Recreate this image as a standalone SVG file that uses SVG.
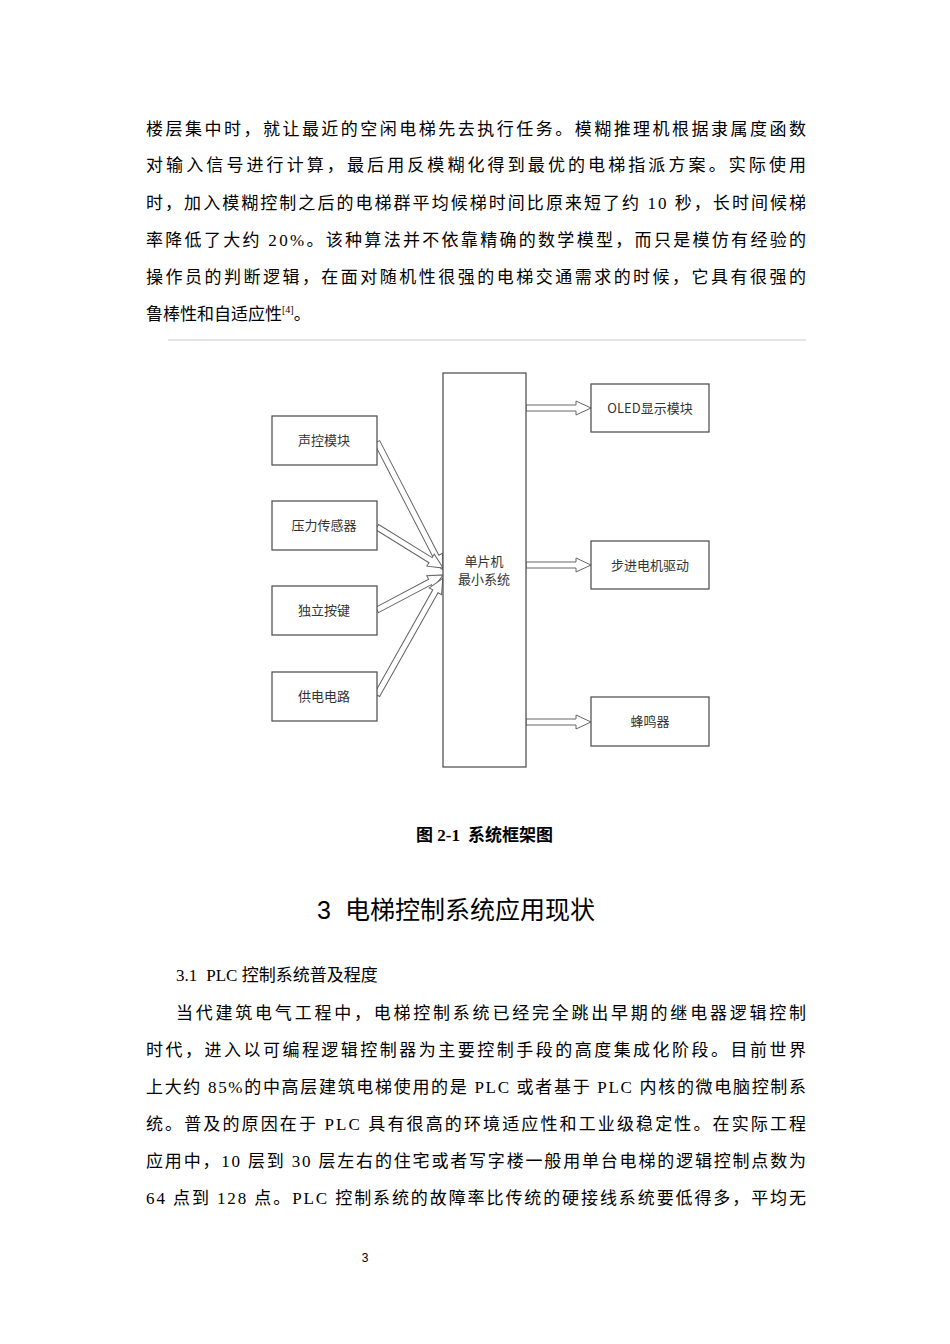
<svg xmlns="http://www.w3.org/2000/svg" width="950" height="1344" viewBox="0 0 950 1344">
<style>
.b{font-family:"Liberation Serif","Noto Sans CJK SC",serif;font-size:17px;fill:#000}
.n{fill:#fff;stroke:#555;stroke-width:1.3}
.t{font-family:"Noto Sans CJK SC",sans-serif;font-size:13px;fill:#333;text-anchor:middle}
.a{fill:#fff;stroke:#666;stroke-width:1}
</style>
<rect width="950" height="1344" fill="#fff"/>
<g class="b">
<text x="146" y="135" textLength="660" lengthAdjust="spacing">楼层集中时，就让最近的空闲电梯先去执行任务。模糊推理机根据隶属度函数</text>
<text x="146" y="171" textLength="660" lengthAdjust="spacing">对输入信号进行计算，最后用反模糊化得到最优的电梯指派方案。实际使用</text>
<text x="146" y="209" textLength="660" lengthAdjust="spacing">时，加入模糊控制之后的电梯群平均候梯时间比原来短了约 10 秒，长时间候梯</text>
<text x="146" y="246" textLength="660" lengthAdjust="spacing">率降低了大约 20%。该种算法并不依靠精确的数学模型，而只是模仿有经验的</text>
<text x="146" y="283" textLength="660" lengthAdjust="spacing">操作员的判断逻辑，在面对随机性很强的电梯交通需求的时候，它具有很强的</text>
<text x="146" y="320">鲁棒性和自适应性<tspan font-size="10" dy="-7">[4]</tspan><tspan dy="7">。</tspan></text>
</g>
<line x1="168" y1="340" x2="806" y2="340" stroke="#e4e4e4" stroke-width="2"/>
<g id="connectors">
<polygon class="a" transform="translate(377,442) rotate(62.7)" points="0,-3 129,-3 129,-7 144,0 129,7 129,3 0,3"/>
<polygon class="a" transform="translate(377,527) rotate(31.8)" points="0,-3 63,-3 63,-7 78,0 63,7 63,3 0,3"/>
<polygon class="a" transform="translate(377,610) rotate(-27.9)" points="0,-3 60,-3 60,-7 75,0 60,7 60,3 0,3"/>
<polygon class="a" transform="translate(377,695) rotate(-60.6)" points="0,-3 119,-3 119,-7 134,0 119,7 119,3 0,3"/>
<polygon class="a" transform="translate(526,408)" points="0,-3 50,-3 50,-7 65,0 50,7 50,3 0,3"/>
<polygon class="a" transform="translate(526,565)" points="0,-3 50,-3 50,-7 65,0 50,7 50,3 0,3"/>
<polygon class="a" transform="translate(526,722)" points="0,-3 50,-3 50,-7 65,0 50,7 50,3 0,3"/>
</g>
<g id="mcu"><rect class="n" x="443" y="373" width="83" height="394"/><text class="t" x="484" y="566">单片机</text><text class="t" x="484" y="584">最小系统</text></g>
<g id="n1"><rect class="n" x="272" y="416" width="105" height="49"/><text class="t" x="324" y="445">声控模块</text></g>
<g id="n2"><rect class="n" x="272" y="501" width="105" height="49"/><text class="t" x="324" y="530">压力传感器</text></g>
<g id="n3"><rect class="n" x="272" y="586" width="105" height="49"/><text class="t" x="324" y="615">独立按键</text></g>
<g id="n4"><rect class="n" x="272" y="672" width="105" height="49"/><text class="t" x="324" y="701">供电电路</text></g>
<g id="o1"><rect class="n" x="591" y="384" width="118" height="48"/><text class="t" x="650" y="413">OLED显示模块</text></g>
<g id="o2"><rect class="n" x="591" y="541" width="118" height="48"/><text class="t" x="650" y="570">步进电机驱动</text></g>
<g id="o3"><rect class="n" x="591" y="697" width="118" height="49"/><text class="t" x="650" y="726">蜂鸣器</text></g>
<text class="b" x="416" y="841" font-weight="bold" font-size="16">图 2-1<tspan dx="8">系统框架图</tspan></text>
<text x="317" y="919" font-family="Liberation Sans,Noto Sans CJK SC,sans-serif" font-size="25">3<tspan dx="14">电梯控制系统应用现状</tspan></text>
<text class="b" x="176" y="981">3.1<tspan dx="9">PLC 控制系统普及程度</tspan></text>
<g class="b">
<text x="176" y="1019" textLength="630" lengthAdjust="spacing">当代建筑电气工程中，电梯控制系统已经完全跳出早期的继电器逻辑控制</text>
<text x="146" y="1056" textLength="660" lengthAdjust="spacing">时代，进入以可编程逻辑控制器为主要控制手段的高度集成化阶段。目前世界</text>
<text x="146" y="1093" textLength="660" lengthAdjust="spacing">上大约 85%的中高层建筑电梯使用的是 PLC 或者基于 PLC 内核的微电脑控制系</text>
<text x="146" y="1130" textLength="660" lengthAdjust="spacing">统。普及的原因在于 PLC 具有很高的环境适应性和工业级稳定性。在实际工程</text>
<text x="146" y="1167" textLength="660" lengthAdjust="spacing">应用中，10 层到 30 层左右的住宅或者写字楼一般用单台电梯的逻辑控制点数为</text>
<text x="146" y="1204" textLength="660" lengthAdjust="spacing">64 点到 128 点。PLC 控制系统的故障率比传统的硬接线系统要低得多，平均无</text>
</g>
<text x="365" y="1262" text-anchor="middle" font-family="Liberation Sans,sans-serif" font-size="12">3</text>
</svg>
